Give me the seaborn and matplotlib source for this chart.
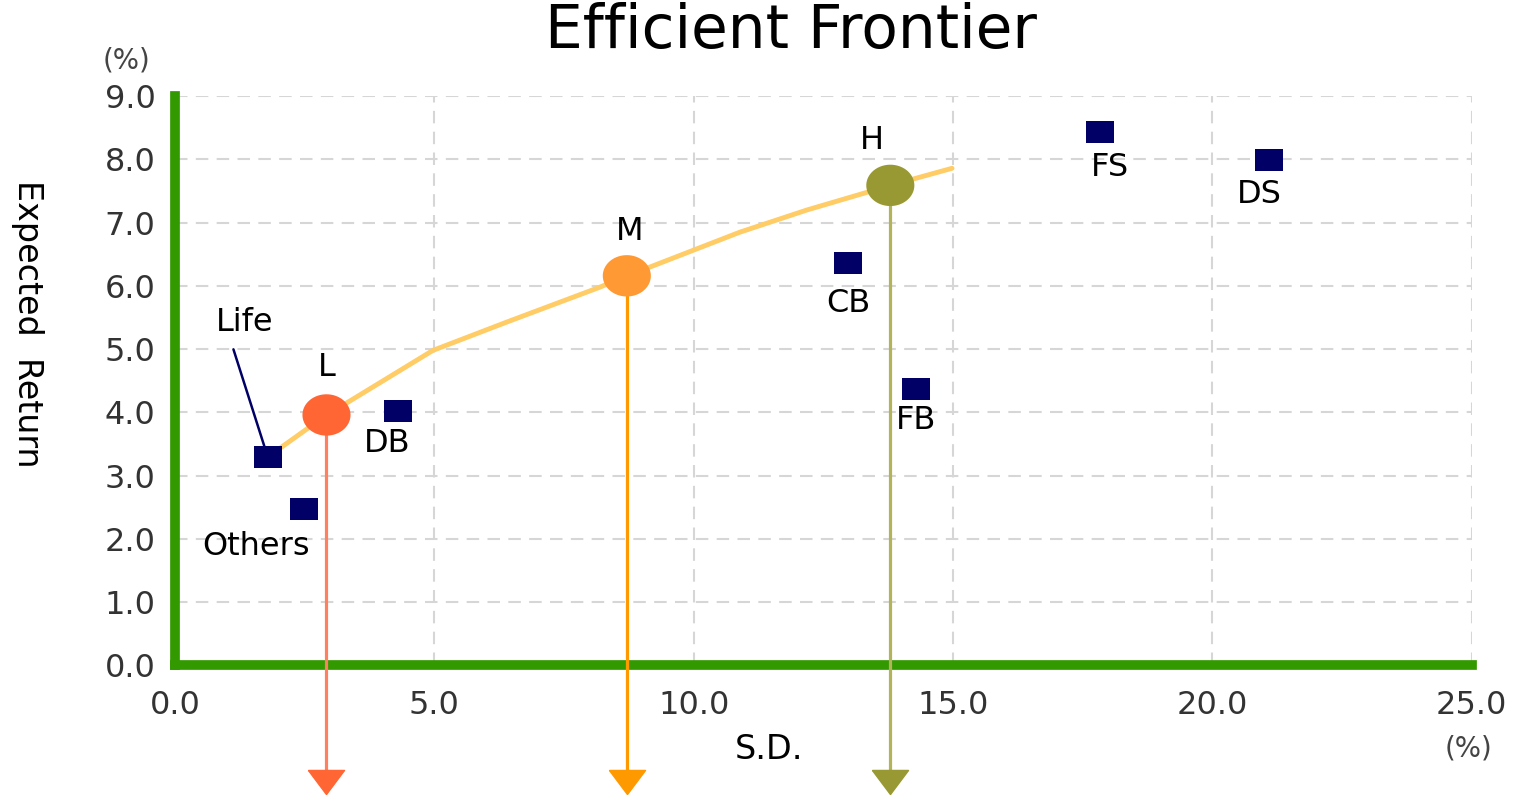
import numpy as np
import matplotlib
matplotlib.use("Agg")
import matplotlib.pyplot as plt
import seaborn as sns

# asset classes (S.D. %, expected return %)
asset_names = ['Life', 'Others', 'DB', 'CB', 'FB', 'FS', 'DS']
asset_sd = [1.79, 2.49, 4.30, 12.98, 14.28, 17.83, 21.10]
asset_ret = [3.29, 2.48, 4.02, 6.36, 4.37, 8.44, 7.99]

# model portfolios on the frontier
port_names = ['L', 'M', 'H']
port_sd = [2.92, 8.71, 13.79]
port_ret = [3.96, 6.16, 7.59]

# efficient frontier
frontier_sd = [2.00, 2.92, 3.31, 4.97, 6.40, 8.19, 8.71, 9.16, 10.89, 12.18, 13.34, 13.79, 14.98]
frontier_ret = [3.42, 3.96, 4.15, 4.98, 5.43, 5.98, 6.16, 6.30, 6.85, 7.20, 7.48, 7.59, 7.86]

x_ticks = [0, 5, 10, 15, 20, 25]
y_ticks = [0, 1, 2, 3, 4, 5, 6, 7, 8, 9]

port_colors = ['#FF6633', '#FF9933', '#999933']
arrow_colors = ['#FF8060', '#FF9900', '#B3B35C']
head_colors = ['#FF6633', '#FF9900', '#999933']
green = '#339900'
navy = '#000066'

# label offsets in points (dx, dy) from each mark
asset_label_off = {'Others': (-35, -27), 'DB': (-8, -23), 'CB': (0, -29),
                   'FB': (0, -23), 'FS': (7, -26), 'DS': (-7, -25)}
port_label_off = {'L': (0, 34), 'M': (2, 32), 'H': (-13, 32)}

sns.set_style("white")
plt.rcParams['font.family'] = ['DejaVu Sans']
plt.rcParams['text.color'] = 'black'
plt.rcParams['axes.labelcolor'] = 'black'

fig = plt.figure(figsize=(15.22, 7.95), dpi=100)
ax = fig.add_axes([0.115, 0.163, 0.852, 0.716])

# slightly squashed marks, the original is stretched sideways
t = np.linspace(0, 2 * np.pi, 60)
ellipse = np.column_stack([np.cos(t), 0.86 * np.sin(t)])
rect = [(-1, -0.82), (1, -0.82), (1, 0.82), (-1, 0.82), (-1, -0.82)]
tri = [(-1.5, 1), (1.5, 1), (0, -1), (-1.5, 1)]

sns.lineplot(x=frontier_sd, y=frontier_ret, sort=False, color='#FFCC66', lw=3.5, ax=ax, zorder=3)

sns.scatterplot(x=asset_sd, y=asset_ret, marker=rect, s=400, color=navy,
                linewidth=0, ax=ax, zorder=4)

for sd, ret, lc, hc in zip(port_sd, port_ret, arrow_colors, head_colors):
    ax.plot([sd, sd], [ret, -1.8], color=lc, lw=2.3, clip_on=False, zorder=5)
    ax.plot([sd], [-1.84], marker=tri, markersize=26, color=hc, lw=0,
            clip_on=False, zorder=6)

sns.scatterplot(x=port_sd, y=port_ret, hue=port_names, palette=port_colors,
                marker=ellipse, s=1200, linewidth=0, legend=False, ax=ax, zorder=7)

for name, sd, ret in zip(asset_names, asset_sd, asset_ret):
    if name == 'Life':
        ax.annotate(name, xy=(sd, ret), xytext=(-17, 97), textcoords='offset points',
                    ha='center', va='center', fontsize=23,
                    arrowprops=dict(arrowstyle='-', color=navy, lw=1.8,
                                    relpos=(0.25, 0), shrinkA=6, shrinkB=5))
    else:
        ax.annotate(name, xy=(sd, ret), xytext=asset_label_off[name], textcoords='offset points',
                    ha='center', va='center', fontsize=23)

for name, sd, ret in zip(port_names, port_sd, port_ret):
    ax.annotate(name, xy=(sd, ret), xytext=port_label_off[name], textcoords='offset points',
                ha='center', va='center', fontsize=23)

ax.set_xlim(0, 25)
ax.set_ylim(0, 9)
ax.set_xticks(x_ticks)
ax.set_yticks(y_ticks)
ax.set_xticklabels([f'{v:.1f}' for v in x_ticks])
ax.set_yticklabels([f'{v:.1f}' for v in y_ticks])
ax.tick_params(axis='both', length=0, labelsize=23, labelcolor='#333333')
ax.tick_params(axis='x', pad=18)
ax.tick_params(axis='y', pad=14)

ax.grid(True, color='#d6d6d6', lw=1.5, linestyle=(0, (6, 4)))
ax.set_axisbelow(True)
for side in ['top', 'right']:
    ax.spines[side].set_visible(False)
for side in ['left', 'bottom']:
    ax.spines[side].set_color(green)
    ax.spines[side].set_linewidth(7)
    ax.spines[side].set_zorder(2.5)

ax.set_xlabel('S.D.', fontsize=24)
ax.set_ylabel('Expected  Return', fontsize=24, rotation=270)
ax.yaxis.set_label_coords(-0.114, 0.60)
ax.xaxis.set_label_coords(0.458, -0.147)
ax.xaxis.label.set_va('center')
ax.yaxis.label.set_va('center')

fig.text(0.083, 0.924, '(%)', fontsize=20, color='#444444', ha='center', va='center')
fig.text(0.965, 0.059, '(%)', fontsize=20, color='#444444', ha='center', va='center')
fig.suptitle('Efficient Frontier', fontsize=43, y=0.998, x=0.52)

fig.savefig('out.png', dpi=100)
